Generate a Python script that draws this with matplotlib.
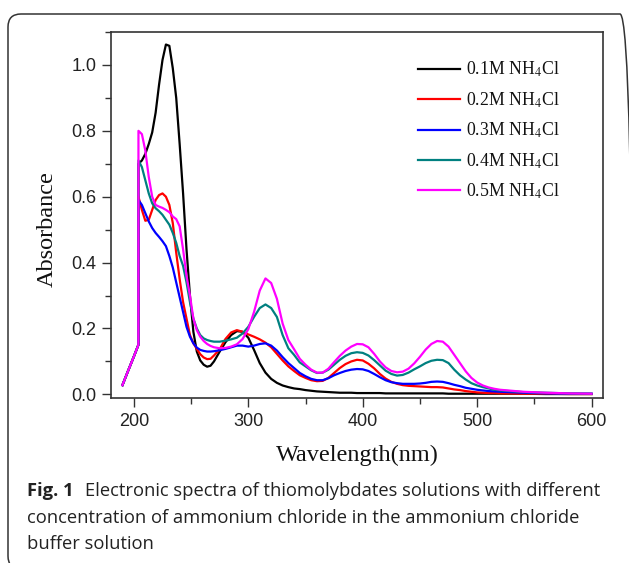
import matplotlib
matplotlib.use("Agg")
import matplotlib.pyplot as plt
from matplotlib.patches import FancyBboxPatch
from matplotlib.ticker import MultipleLocator

# ---------------- data ----------------
wavelength = [190, 195, 200, 203.9, 204, 207, 210, 213, 216, 219, 222, 225, 228, 231, 234,
              237, 240, 243, 246, 249, 252, 255, 258, 261, 264, 267, 270, 275, 280, 285,
              290, 295, 300, 305, 310, 315, 320, 325, 330, 335, 340, 345, 350, 355, 360,
              365, 370, 375, 380, 385, 390, 395, 400, 405, 410, 415, 420, 425, 430, 435,
              440, 445, 450, 455, 460, 465, 470, 475, 480, 485, 490, 495, 500, 505, 510,
              515, 520, 540, 560, 580, 600]

abs_01M = [0.028, 0.072, 0.115, 0.15, 0.70, 0.71, 0.73, 0.76, 0.795, 0.855, 0.94, 1.015, 1.062, 1.058, 0.99,
           0.90, 0.76, 0.61, 0.44, 0.30, 0.19, 0.13, 0.103, 0.09, 0.084, 0.087, 0.10, 0.13, 0.158, 0.18,
           0.192, 0.19, 0.172, 0.135, 0.095, 0.066, 0.047, 0.035, 0.027, 0.022, 0.018, 0.016, 0.013, 0.011, 0.009,
           0.008, 0.007, 0.006, 0.005, 0.005, 0.005, 0.004, 0.004, 0.004, 0.004, 0.004, 0.003, 0.003, 0.003, 0.003,
           0.003, 0.003, 0.003, 0.003, 0.003, 0.003, 0.003, 0.002, 0.002, 0.002, 0.002, 0.002, 0.002, 0.002, 0.002,
           0.002, 0.002, 0.002, 0.001, 0.001, 0.001]

abs_02M = [0.028, 0.072, 0.115, 0.15, 0.60, 0.56, 0.527, 0.53, 0.56, 0.59, 0.605, 0.61, 0.60, 0.575, 0.52,
           0.43, 0.35, 0.28, 0.23, 0.18, 0.155, 0.138, 0.122, 0.112, 0.107, 0.108, 0.118, 0.137, 0.168, 0.188,
           0.195, 0.19, 0.182, 0.175, 0.167, 0.157, 0.143, 0.123, 0.103, 0.085, 0.071, 0.058, 0.05, 0.043, 0.04,
           0.041, 0.05, 0.065, 0.08, 0.092, 0.10, 0.105, 0.103, 0.093, 0.079, 0.062, 0.048, 0.038, 0.032, 0.028,
           0.026, 0.025, 0.024, 0.023, 0.022, 0.022, 0.021, 0.018, 0.015, 0.013, 0.010, 0.008, 0.006, 0.005, 0.004,
           0.004, 0.003, 0.002, 0.002, 0.001, 0.001]

abs_03M = [0.028, 0.072, 0.115, 0.15, 0.59, 0.575, 0.55, 0.525, 0.505, 0.49, 0.478, 0.465, 0.45, 0.42, 0.385,
           0.34, 0.295, 0.25, 0.205, 0.175, 0.155, 0.142, 0.135, 0.132, 0.13, 0.13, 0.131, 0.134, 0.138, 0.143,
           0.148, 0.148, 0.145, 0.148, 0.153, 0.155, 0.148, 0.133, 0.113, 0.095, 0.08, 0.065, 0.055, 0.047, 0.043,
           0.043, 0.049, 0.058, 0.065, 0.071, 0.075, 0.077, 0.076, 0.071, 0.062, 0.052, 0.043, 0.037, 0.034, 0.032,
           0.032, 0.032, 0.033, 0.035, 0.038, 0.039, 0.038, 0.034, 0.029, 0.025, 0.020, 0.017, 0.014, 0.012, 0.010,
           0.009, 0.008, 0.005, 0.003, 0.002, 0.002]

abs_04M = [0.028, 0.072, 0.115, 0.15, 0.71, 0.69, 0.65, 0.61, 0.58, 0.565, 0.556, 0.545, 0.53, 0.515, 0.49,
           0.46, 0.42, 0.39, 0.34, 0.28, 0.23, 0.20, 0.18, 0.17, 0.165, 0.162, 0.16, 0.16, 0.163, 0.167,
           0.172, 0.185, 0.205, 0.235, 0.262, 0.273, 0.262, 0.235, 0.18, 0.14, 0.12, 0.097, 0.085, 0.073, 0.065,
           0.066, 0.075, 0.09, 0.105, 0.117, 0.125, 0.128, 0.126, 0.118, 0.104, 0.088, 0.072, 0.062, 0.057, 0.059,
           0.066, 0.076, 0.085, 0.095, 0.102, 0.105, 0.104, 0.095, 0.075, 0.058, 0.045, 0.034, 0.027, 0.022, 0.018,
           0.014, 0.012, 0.007, 0.005, 0.003, 0.002]

abs_05M = [0.028, 0.072, 0.115, 0.15, 0.80, 0.79, 0.74, 0.66, 0.60, 0.575, 0.57, 0.566, 0.56, 0.553, 0.54,
           0.532, 0.51, 0.44, 0.36, 0.30, 0.23, 0.195, 0.175, 0.162, 0.153, 0.147, 0.143, 0.14, 0.141, 0.145,
           0.152, 0.168, 0.198, 0.25, 0.315, 0.352, 0.338, 0.29, 0.215, 0.165, 0.137, 0.108, 0.09, 0.075, 0.066,
           0.066, 0.078, 0.098, 0.117, 0.133, 0.145, 0.153, 0.152, 0.143, 0.123, 0.10, 0.082, 0.071, 0.067, 0.069,
           0.078, 0.094, 0.114, 0.136, 0.153, 0.162, 0.16, 0.145, 0.12, 0.095, 0.07, 0.05, 0.036, 0.027, 0.021,
           0.017, 0.014, 0.008, 0.005, 0.003, 0.002]

series_labels = [r"0.1M NH$_4$Cl", r"0.2M NH$_4$Cl", r"0.3M NH$_4$Cl",
                 r"0.4M NH$_4$Cl", r"0.5M NH$_4$Cl"]
series_colors = ["#000000", "#FF0000", "#0000FF", "#008080", "#FF00FF"]

x_ticks = [200, 300, 400, 500, 600]
y_ticks = [0.0, 0.2, 0.4, 0.6, 0.8, 1.0]

caption_bold = "Fig. 1"
caption_line1 = "Electronic spectra of thiomolybdates solutions with different"
caption_line2 = "concentration of ammonium chloride in the ammonium chloride"
caption_line3 = "buffer solution"

# ---------------- figure ----------------
W, H = 629, 563
DPI = 100
plt.rcParams["mathtext.fontset"] = "stix"
fig = plt.figure(figsize=(W / DPI, H / DPI), dpi=DPI)

def fx(px):
    return px / W

def fy(py):
    return 1 - py / H

# rounded outer border
border = FancyBboxPatch((8, -6), 625, 555, boxstyle="round,pad=0,rounding_size=13",
                        transform=None, facecolor="none", edgecolor="#333333", linewidth=1.1)
fig.patches.append(border)

ax_l, ax_r, ax_t, ax_b = 111, 603, 32, 398
ax = fig.add_axes([fx(ax_l), fy(ax_b), (ax_r - ax_l) / W, (ax_b - ax_t) / H])

all_series = [abs_01M, abs_02M, abs_03M, abs_04M, abs_05M]
for vals, lab, col in zip(all_series, series_labels, series_colors):
    ax.plot(wavelength, vals, color=col, lw=1.6, label=lab, solid_joinstyle="round")

ax.set_xlim(180, 610)
ax.set_ylim(-0.011, 1.1)
ax.set_xticks(x_ticks)
ax.set_yticks(y_ticks)
ax.set_yticklabels([f"{v:.1f}" for v in y_ticks])
ax.xaxis.set_minor_locator(MultipleLocator(50))
ax.yaxis.set_minor_locator(MultipleLocator(0.1))

for sp in ax.spines.values():
    sp.set_color("#333333")
    sp.set_linewidth(1.2)

ax.tick_params(which="major", direction="out", length=6.5, width=1.0, color="#333333",
               labelsize=13, pad=4)
ax.tick_params(which="minor", direction="out", length=4, width=1.0, color="#333333")
ax.tick_params(top=False, right=False, which="both")
for t in ax.get_xticklabels() + ax.get_yticklabels():
    t.set_fontfamily("Liberation Sans")
    t.set_color("#222222")

ax.set_xlabel("Wavelength(nm)", fontsize=17.5, family="Liberation Serif", color="#111111")
ax.set_ylabel("Absorbance", fontsize=17.5, family="Liberation Serif", color="#111111")
ax.xaxis.label.set_va("center")
ax.yaxis.label.set_va("center")
ax.xaxis.set_label_coords((357 - ax_l) / (ax_r - ax_l), -(455 - ax_b) / (ax_b - ax_t))
ax.yaxis.set_label_coords((47 - ax_l) / (ax_r - ax_l), (ax_b - 229) / (ax_b - ax_t))

leg_fs = 12.8
leg = ax.legend(loc="upper left", bbox_to_anchor=((418 - ax_l) / (ax_r - ax_l), (ax_b - 60) / (ax_b - ax_t)),
                frameon=False, prop={"family": "Liberation Serif", "size": leg_fs},
                handlelength=2.35, handletextpad=0.33, labelspacing=0.62, borderaxespad=0,
                borderpad=0)
for t in leg.get_texts():
    t.set_color("#111111")

# caption
cap_font = "Open Sans"
cap_size = 13.2
fig.canvas.draw()
r = fig.canvas.get_renderer()
tb = fig.text(fx(27), fy(491), caption_bold, fontsize=cap_size, family=cap_font,
              weight="bold", va="center", ha="left", color="#222222")
bb = tb.get_window_extent(renderer=r)
fig.text((bb.x1 + 11) / W, fy(491), caption_line1, fontsize=cap_size, family=cap_font,
         va="center", ha="left", color="#222222")
fig.text(fx(27), fy(518), caption_line2, fontsize=cap_size, family=cap_font,
         va="center", ha="left", color="#222222")
fig.text(fx(27), fy(544), caption_line3, fontsize=cap_size, family=cap_font,
         va="center", ha="left", color="#222222")

fig.savefig("out.png", dpi=DPI)
